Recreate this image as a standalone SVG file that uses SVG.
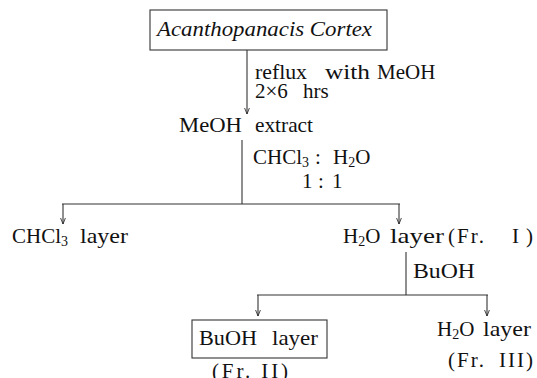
<svg xmlns="http://www.w3.org/2000/svg" width="537" height="378" viewBox="0 0 537 378">
<style>
text{font-family:"Liberation Serif","Times New Roman",serif;fill:#111;font-size:21px}
.sub{font-size:14px}
.it{font-style:italic;font-size:22px}
.ln{stroke:#333;stroke-width:1.1;fill:none}
.bx{stroke:#333;stroke-width:1.1;fill:#fff}
</style>
<defs>
<marker id="ah" viewBox="0 0 10 10" refX="10" refY="5" markerWidth="7" markerHeight="6" markerUnits="userSpaceOnUse" orient="auto">
<path d="M0,1 L10,5 L0,9" fill="none" stroke="#222" stroke-width="1.4"/>
</marker>
</defs>
<rect width="537" height="378" fill="#fff"/>
<g id="connectors">
<line class="ln" x1="247" y1="50" x2="247" y2="114" marker-end="url(#ah)"/>
<line class="ln" x1="242" y1="140" x2="242" y2="204"/>
<line class="ln" x1="62" y1="204" x2="400" y2="204"/>
<line class="ln" x1="63" y1="204" x2="63" y2="224" marker-end="url(#ah)"/>
<line class="ln" x1="399" y1="204" x2="399" y2="224" marker-end="url(#ah)"/>
<line class="ln" x1="406" y1="252" x2="406" y2="295"/>
<line class="ln" x1="257" y1="295" x2="488" y2="295"/>
<line class="ln" x1="258" y1="295" x2="258" y2="316" marker-end="url(#ah)"/>
<line class="ln" x1="487" y1="295" x2="487" y2="316" marker-end="url(#ah)"/>
<text x="255" y="79" textLength="52" lengthAdjust="spacingAndGlyphs">reflux</text>
<text x="325" y="79" textLength="45" lengthAdjust="spacingAndGlyphs">with</text>
<text x="377" y="79">MeOH</text>
<text x="255" y="98">2×6</text>
<text x="303" y="98">hrs</text>
<text x="253" y="164">CHCl<tspan class="sub" dy="3">3</tspan></text>
<text x="315" y="164">:</text>
<text x="333" y="164">H<tspan class="sub" dy="3">2</tspan><tspan dy="-3">O</tspan></text>
<text x="302" y="188">1</text>
<text x="318" y="188">:</text>
<text x="332" y="188">1</text>
<text x="413" y="278" textLength="62" lengthAdjust="spacingAndGlyphs">BuOH</text>
</g>
<g id="n-acanthopanacis">
<rect class="bx" x="150" y="10" width="237" height="40"/>
<text class="it" x="157" y="36" textLength="215" lengthAdjust="spacingAndGlyphs">Acanthopanacis Cortex</text>
</g>
<g id="n-meoh-extract">
<text x="179" y="132" textLength="63" lengthAdjust="spacingAndGlyphs">MeOH</text>
<text x="255" y="132" textLength="58" lengthAdjust="spacingAndGlyphs">extract</text>
</g>
<g id="n-chcl3-layer">
<text x="12" y="243">CHCl<tspan class="sub" dy="3">3</tspan></text>
<text x="80" y="243" textLength="48" lengthAdjust="spacingAndGlyphs">layer</text>
</g>
<g id="n-h2o-layer-1">
<text x="343" y="243">H<tspan class="sub" dy="3">2</tspan><tspan dy="-3">O</tspan></text>
<text x="390" y="243" textLength="54" lengthAdjust="spacingAndGlyphs">layer</text>
<text x="448" y="243" textLength="36" lengthAdjust="spacing">(Fr.</text>
<text x="512" y="243" textLength="21" lengthAdjust="spacing">I)</text>
</g>
<g id="n-buoh-layer">
<rect class="bx" x="192" y="320" width="135" height="38"/>
<text x="199" y="345" textLength="58" lengthAdjust="spacingAndGlyphs">BuOH</text>
<text x="272" y="345" textLength="46" lengthAdjust="spacingAndGlyphs">layer</text>
<text x="212" y="378" textLength="76" lengthAdjust="spacing">(Fr. II)</text>
</g>
<g id="n-h2o-layer-3">
<text x="437" y="336">H<tspan class="sub" dy="3">2</tspan><tspan dy="-3">O</tspan></text>
<text x="483" y="336" textLength="48" lengthAdjust="spacingAndGlyphs">layer</text>
<text x="448" y="367" textLength="36" lengthAdjust="spacing">(Fr.</text>
<text x="499" y="367" textLength="34" lengthAdjust="spacing">III)</text>
</g>
</svg>
